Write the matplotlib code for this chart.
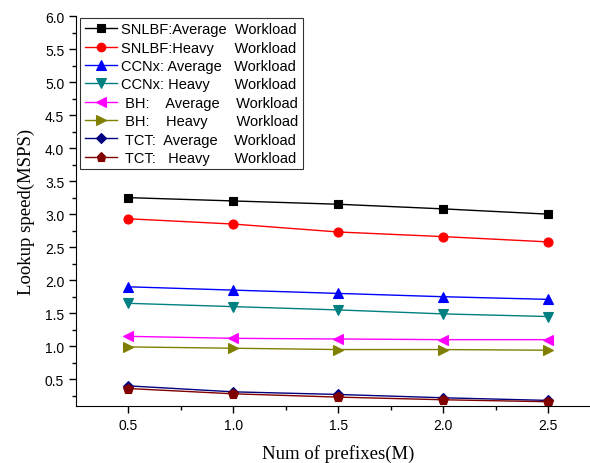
import numpy as np
import matplotlib
matplotlib.use("Agg")
import matplotlib.pyplot as plt

# data
prefixes = [0.5, 1.0, 1.5, 2.0, 2.5]
snlbf_avg = [3.25, 3.20, 3.15, 3.08, 3.00]
snlbf_heavy = [2.93, 2.85, 2.73, 2.66, 2.58]
ccnx_avg = [1.90, 1.85, 1.80, 1.75, 1.71]
ccnx_heavy = [1.65, 1.60, 1.55, 1.49, 1.45]
bh_avg = [1.15, 1.12, 1.11, 1.10, 1.10]
bh_heavy = [0.99, 0.97, 0.95, 0.95, 0.94]
tct_avg = [0.40, 0.31, 0.27, 0.22, 0.18]
tct_heavy = [0.36, 0.28, 0.23, 0.19, 0.16]

labels = ["SNLBF:Average  Workload",
          "SNLBF:Heavy     Workload",
          "CCNx: Average   Workload",
          "CCNx: Heavy      Workload",
          " BH:    Average    Workload",
          " BH:    Heavy       Workload",
          " TCT:  Average    Workload",
          " TCT:   Heavy      Workload"]

series = [snlbf_avg, snlbf_heavy, ccnx_avg, ccnx_heavy,
          bh_avg, bh_heavy, tct_avg, tct_heavy]
colors = ['#000000', '#ff0000', '#0000ff', '#008080',
          '#ff00ff', '#808000', '#000080', '#800000']
markers = ['s', 'o', '^', 'v', '<', '>', 'D', 'p']
msizes = [5.5, 6.5, 7, 7, 7, 7, 5, 7]

plt.rcParams['font.family'] = ['Liberation Sans', 'DejaVu Sans']

fig = plt.figure(figsize=(5.9, 4.64), dpi=100)
# axes extends a bit past the right edge like the cropped original
ax = fig.add_axes([76/590, 1-406.7/464, (600.5-76)/590, (406.7-17)/464])

for ys, lab, c, m, ms in zip(series, labels, colors, markers, msizes):
    ax.plot(prefixes, ys, color=c, marker=m, markersize=ms, lw=1,
            label=lab, markeredgewidth=0.8)

ax.set_xlim(0.25, 2.75)
ax.set_ylim(0.1, 6.0)
ax.set_xticks(prefixes)
ax.set_xticks(np.arange(0.75, 2.75, 0.5), minor=True)
ax.set_yticks(np.arange(0.5, 6.01, 0.5))
ax.set_yticks(np.arange(0.25, 6.0, 0.5), minor=True)
ax.xaxis.set_major_formatter(matplotlib.ticker.FormatStrFormatter('%.1f'))
ax.yaxis.set_major_formatter(matplotlib.ticker.FormatStrFormatter('%.1f'))
ax.tick_params(which='major', direction='out', length=5, width=1, labelsize=10)
ax.tick_params(which='minor', direction='out', length=3, width=1)
ax.spines['top'].set_visible(False)
ax.spines['right'].set_visible(False)

ax.set_xlabel('Num of prefixes(M)', family='Liberation Serif', fontsize=13.5,
              labelpad=9)
ax.set_ylabel('Lookup speed(MSPS)', family='Liberation Serif', fontsize=13.5,
              labelpad=7)

leg = ax.legend(loc='upper left', bbox_to_anchor=(0.008, 0.995),
                borderaxespad=0, fontsize=10.5, frameon=True, fancybox=False,
                handlelength=2.2, handletextpad=0.3, labelspacing=0.3,
                borderpad=0.3, markerscale=0.95)
leg.get_frame().set_edgecolor('black')
leg.get_frame().set_linewidth(0.8)

fig.savefig('out.png', dpi=100)
